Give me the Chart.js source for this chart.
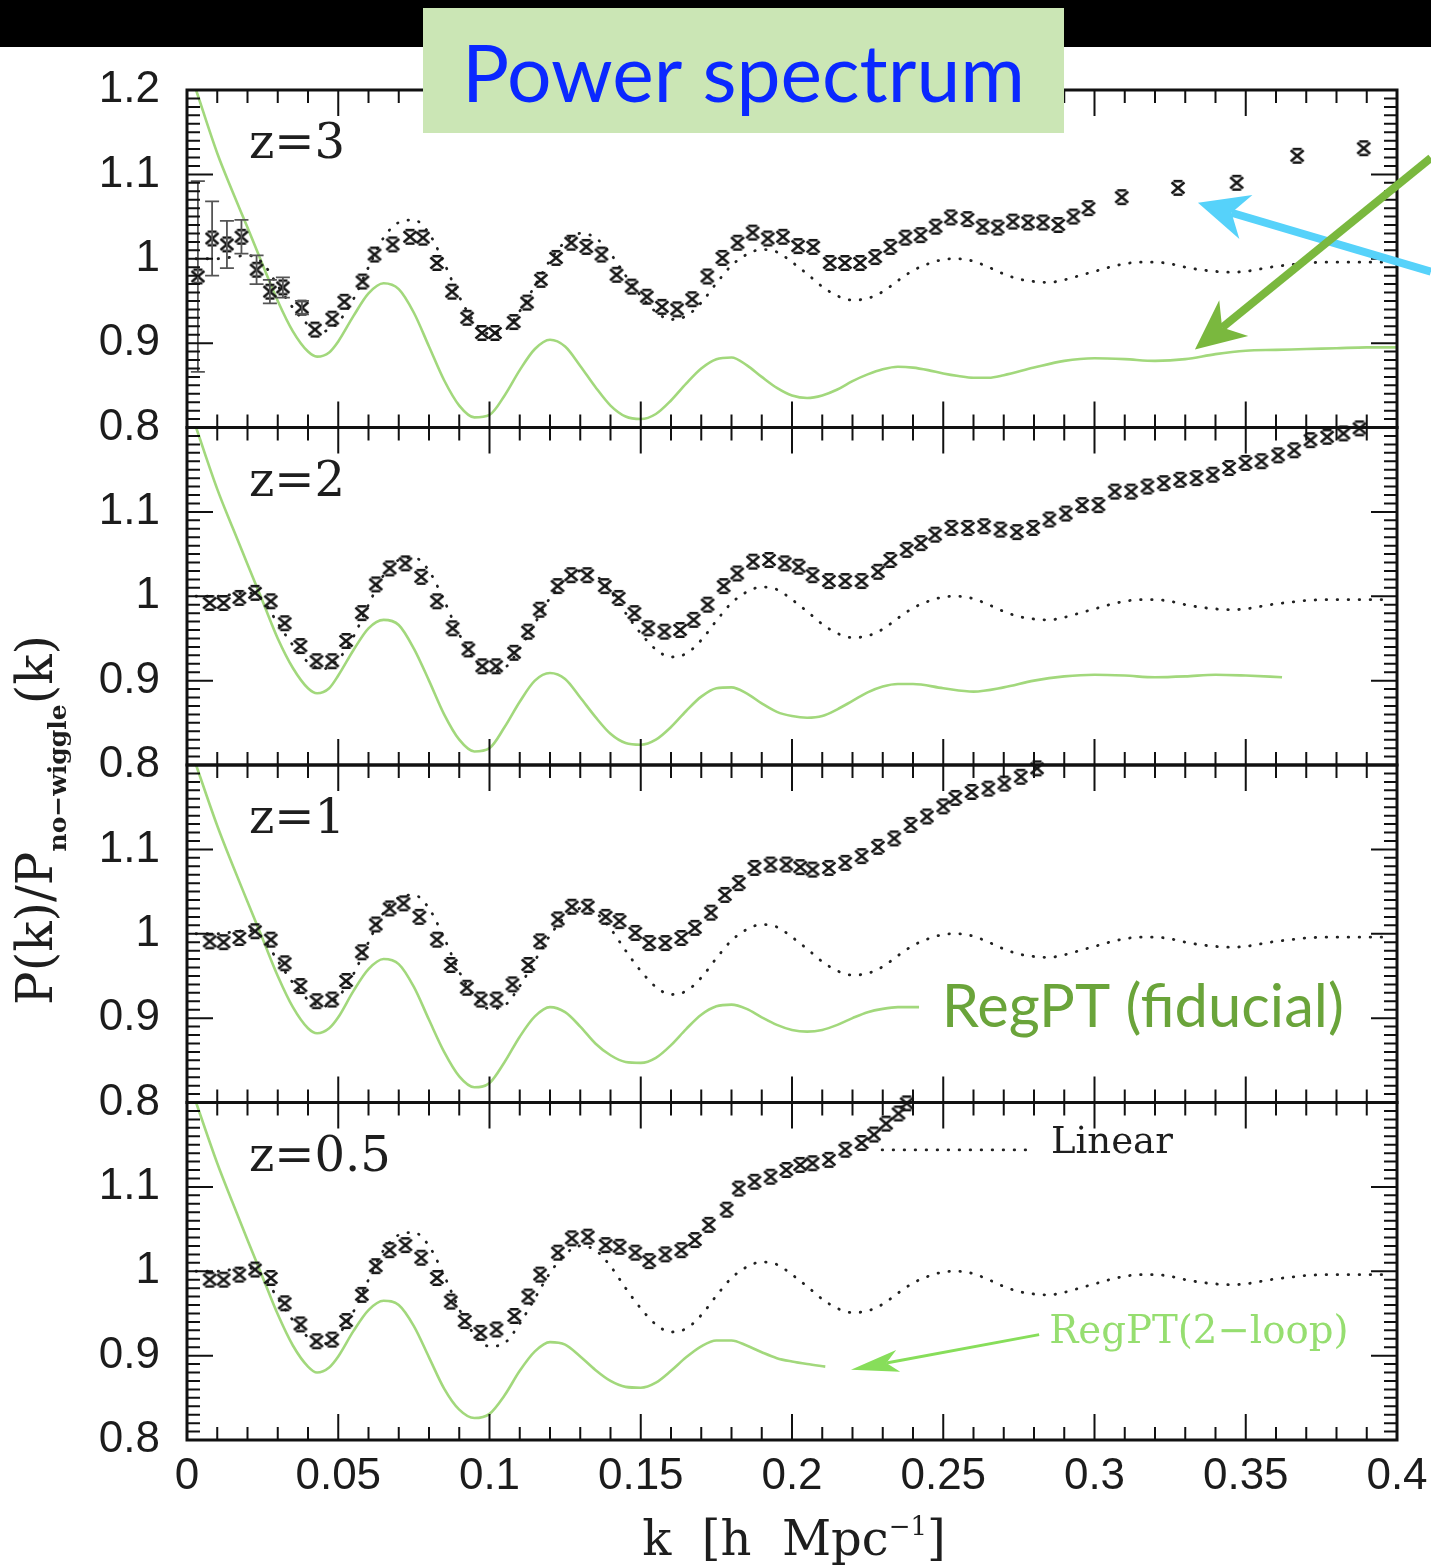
<!DOCTYPE html>
<html><head><meta charset="utf-8">
<script src="https://cdn.jsdelivr.net/npm/chart.js@4.4.1/dist/chart.umd.min.js"></script>
<style>html,body{margin:0;padding:0;background:#fff;}canvas{display:block;}</style>
</head><body>
<canvas id="c" width="1431" height="1567"></canvas>
<script>
// ---------------- DATA ----------------
const panelLabels = ['z=3', 'z=2', 'z=1', 'z=0.5'];
const xTickValues = [0, 0.05, 0.1, 0.15, 0.2, 0.25, 0.3, 0.35, 0.4];
const yTickValues = [0.8, 0.9, 1, 1.1, 1.2];

// N-body simulation points [k, P/Pnw]
const simZ3 = [[0.0036,0.979],[0.0083,1.024],[0.0132,1.017],[0.018,1.026],[0.023,0.987],[0.0274,0.961],[0.0317,0.966],[0.038,0.942],[0.0423,0.916],[0.048,0.929],[0.052,0.949],[0.058,0.973],[0.062,1.005],[0.068,1.017],[0.0737,1.026],[0.078,1.025],[0.0826,0.995],[0.0876,0.961],[0.0926,0.930],[0.0975,0.912],[0.1018,0.912],[0.108,0.925],[0.1124,0.948],[0.117,0.975],[0.122,1.001],[0.127,1.019],[0.132,1.014],[0.137,1.005],[0.142,0.981],[0.147,0.967],[0.152,0.955],[0.157,0.943],[0.162,0.940],[0.167,0.952],[0.172,0.979],[0.177,1.001],[0.182,1.019],[0.187,1.031],[0.192,1.024],[0.197,1.026],[0.202,1.015],[0.207,1.014],[0.2125,0.995],[0.2175,0.995],[0.2225,0.995],[0.2275,1.002],[0.2325,1.014],[0.2375,1.025],[0.2425,1.028],[0.2475,1.038],[0.2525,1.049],[0.258,1.047],[0.263,1.038],[0.268,1.037],[0.273,1.044],[0.278,1.043],[0.283,1.043],[0.288,1.040],[0.293,1.050],[0.298,1.060],[0.309,1.073],[0.3276,1.084],[0.347,1.090],[0.367,1.122],[0.389,1.131]];
const errZ3 = [0.113,0.044,0.028,0.020,0.017,0.014,0.012,0.008];

const simZ2 = [[0.0075,0.992],[0.0121,0.992],[0.0173,0.998],[0.0225,1.004],[0.0277,0.994],[0.0323,0.968],[0.0375,0.941],[0.0428,0.923],[0.048,0.923],[0.0526,0.947],[0.0578,0.980],[0.0624,1.014],[0.067,1.033],[0.0722,1.039],[0.0774,1.023],[0.0826,0.994],[0.0878,0.962],[0.093,0.937],[0.0976,0.917],[0.1022,0.917],[0.1081,0.933],[0.1127,0.958],[0.1166,0.984],[0.1225,1.012],[0.127,1.025],[0.1323,1.025],[0.1381,1.012],[0.1427,0.998],[0.1479,0.980],[0.1525,0.962],[0.1578,0.958],[0.163,0.960],[0.1675,0.972],[0.1721,0.990],[0.1774,1.012],[0.1819,1.027],[0.1871,1.041],[0.1924,1.043],[0.1976,1.039],[0.2022,1.035],[0.2068,1.025],[0.2122,1.018],[0.2176,1.018],[0.223,1.018],[0.2284,1.029],[0.2325,1.043],[0.2379,1.055],[0.2426,1.063],[0.2473,1.073],[0.2527,1.081],[0.2581,1.081],[0.2635,1.083],[0.2689,1.079],[0.2743,1.076],[0.2797,1.081],[0.2851,1.091],[0.2905,1.098],[0.2959,1.108],[0.3013,1.108],[0.3067,1.124],[0.3121,1.124],[0.3175,1.130],[0.3229,1.134],[0.3283,1.138],[0.3337,1.140],[0.3391,1.144],[0.3445,1.152],[0.3499,1.158],[0.3552,1.160],[0.3607,1.167],[0.366,1.173],[0.3714,1.185],[0.3769,1.189],[0.3823,1.193],[0.3876,1.199]];

const simZ1 = [[0.0075,0.991],[0.0121,0.990],[0.0173,0.995],[0.0225,1.003],[0.0277,0.993],[0.0323,0.965],[0.0375,0.938],[0.0428,0.920],[0.048,0.922],[0.0526,0.944],[0.0578,0.978],[0.0624,1.011],[0.067,1.030],[0.0716,1.036],[0.0768,1.020],[0.0826,0.993],[0.0872,0.963],[0.0925,0.936],[0.0971,0.922],[0.1023,0.922],[0.1076,0.940],[0.1128,0.963],[0.1167,0.991],[0.1226,1.017],[0.1272,1.032],[0.1325,1.032],[0.1384,1.020],[0.143,1.015],[0.1482,1.001],[0.1528,0.989],[0.1581,0.989],[0.1634,0.995],[0.1679,1.007],[0.1732,1.025],[0.1778,1.046],[0.1824,1.060],[0.1876,1.078],[0.1929,1.082],[0.1981,1.082],[0.2027,1.079],[0.2068,1.076],[0.2122,1.078],[0.2176,1.084],[0.223,1.092],[0.2284,1.103],[0.2338,1.113],[0.2392,1.129],[0.2446,1.139],[0.25,1.151],[0.254,1.161],[0.2594,1.168],[0.2649,1.172],[0.2702,1.178],[0.2756,1.186],[0.281,1.196]];

const simZ05 = [[0.0075,0.990],[0.0121,0.990],[0.0173,0.996],[0.0225,1.002],[0.0277,0.992],[0.0323,0.962],[0.0375,0.937],[0.0428,0.917],[0.048,0.919],[0.0526,0.941],[0.0578,0.972],[0.0624,1.006],[0.067,1.025],[0.0722,1.031],[0.0774,1.016],[0.0826,0.992],[0.0872,0.964],[0.0918,0.941],[0.097,0.927],[0.1023,0.931],[0.1082,0.947],[0.1128,0.970],[0.1167,0.996],[0.1226,1.022],[0.1272,1.039],[0.1325,1.041],[0.1384,1.031],[0.143,1.029],[0.1482,1.022],[0.1528,1.012],[0.1581,1.020],[0.1634,1.025],[0.1679,1.037],[0.1725,1.055],[0.1784,1.073],[0.1824,1.098],[0.1876,1.106],[0.1929,1.112],[0.1981,1.120],[0.2027,1.126],[0.2068,1.128],[0.2122,1.132],[0.2176,1.144],[0.223,1.152],[0.2271,1.162],[0.2311,1.175],[0.2352,1.187],[0.2379,1.199]];

// Linear theory (dotted), same in every panel
const linear = [[0.003,1.0],[0.01,1.0],[0.015,1.002],[0.02,1.004],[0.025,0.995],[0.03,0.968],[0.035,0.942],[0.04,0.922],[0.045,0.914],[0.05,0.925],[0.055,0.952],[0.06,0.99],[0.065,1.025],[0.07,1.043],[0.075,1.046],[0.08,1.03],[0.085,0.995],[0.09,0.955],[0.095,0.925],[0.1,0.911],[0.105,0.915],[0.11,0.938],[0.115,0.968],[0.12,0.998],[0.125,1.02],[0.13,1.03],[0.135,1.025],[0.14,1.006],[0.145,0.98],[0.15,0.956],[0.155,0.937],[0.16,0.928],[0.165,0.932],[0.17,0.948],[0.175,0.971],[0.18,0.992],[0.185,1.005],[0.19,1.011],[0.195,1.008],[0.2,0.996],[0.205,0.982],[0.21,0.967],[0.215,0.956],[0.22,0.951],[0.225,0.953],[0.23,0.961],[0.235,0.974],[0.24,0.986],[0.245,0.994],[0.25,0.999],[0.255,1.0],[0.26,0.997],[0.265,0.99],[0.27,0.982],[0.275,0.976],[0.28,0.973],[0.285,0.972],[0.29,0.975],[0.295,0.98],[0.3,0.985],[0.305,0.99],[0.31,0.994],[0.315,0.996],[0.32,0.996],[0.325,0.994],[0.33,0.99],[0.335,0.987],[0.34,0.985],[0.345,0.984],[0.35,0.985],[0.355,0.988],[0.36,0.991],[0.365,0.993],[0.37,0.995],[0.38,0.996],[0.39,0.996],[0.397,0.996]];

// RegPT (green) per panel
const regZ3 = [[0.003,1.2],[0.01,1.125],[0.015,1.08],[0.02,1.037],[0.025,0.993],[0.03,0.95],[0.035,0.914],[0.04,0.89],[0.043,0.884],[0.047,0.889],[0.05,0.902],[0.055,0.932],[0.06,0.959],[0.065,0.971],[0.07,0.964],[0.075,0.936],[0.08,0.896],[0.085,0.856],[0.09,0.826],[0.095,0.812],[0.1,0.815],[0.105,0.838],[0.11,0.868],[0.115,0.893],[0.12,0.904],[0.125,0.896],[0.13,0.873],[0.135,0.848],[0.14,0.826],[0.145,0.813],[0.15,0.81],[0.155,0.816],[0.16,0.832],[0.165,0.852],[0.17,0.87],[0.175,0.881],[0.18,0.883],[0.185,0.874],[0.19,0.86],[0.195,0.847],[0.2,0.838],[0.205,0.835],[0.21,0.838],[0.215,0.845],[0.22,0.855],[0.225,0.863],[0.23,0.869],[0.235,0.872],[0.24,0.871],[0.245,0.868],[0.25,0.864],[0.255,0.861],[0.26,0.859],[0.265,0.859],[0.27,0.862],[0.28,0.871],[0.29,0.879],[0.3,0.882],[0.31,0.881],[0.32,0.879],[0.33,0.881],[0.34,0.887],[0.35,0.891],[0.36,0.892],[0.37,0.893],[0.38,0.894],[0.39,0.895],[0.4,0.895]];
const regZ2 = [[0.003,1.2],[0.01,1.127],[0.015,1.082],[0.02,1.038],[0.025,0.994],[0.03,0.95],[0.035,0.915],[0.04,0.891],[0.043,0.885],[0.047,0.891],[0.05,0.906],[0.055,0.936],[0.06,0.962],[0.065,0.972],[0.07,0.966],[0.075,0.938],[0.08,0.9],[0.085,0.86],[0.09,0.83],[0.095,0.816],[0.1,0.82],[0.105,0.845],[0.11,0.875],[0.115,0.9],[0.12,0.909],[0.125,0.902],[0.13,0.88],[0.135,0.857],[0.14,0.837],[0.145,0.826],[0.15,0.824],[0.155,0.83],[0.16,0.845],[0.165,0.864],[0.17,0.881],[0.175,0.891],[0.18,0.892],[0.185,0.885],[0.19,0.873],[0.195,0.863],[0.2,0.858],[0.205,0.856],[0.21,0.858],[0.215,0.866],[0.22,0.876],[0.225,0.886],[0.23,0.893],[0.235,0.896],[0.24,0.896],[0.25,0.891],[0.26,0.887],[0.27,0.892],[0.28,0.9],[0.29,0.905],[0.3,0.907],[0.31,0.906],[0.32,0.904],[0.33,0.905],[0.34,0.907],[0.35,0.906],[0.362,0.904]];
const regZ1 = [[0.003,1.2],[0.01,1.128],[0.015,1.082],[0.02,1.038],[0.025,0.994],[0.03,0.95],[0.035,0.913],[0.04,0.888],[0.043,0.882],[0.047,0.888],[0.05,0.901],[0.055,0.932],[0.06,0.958],[0.065,0.97],[0.07,0.964],[0.075,0.937],[0.08,0.898],[0.085,0.86],[0.09,0.831],[0.095,0.818],[0.1,0.823],[0.105,0.848],[0.11,0.878],[0.115,0.902],[0.12,0.913],[0.125,0.907],[0.13,0.89],[0.135,0.87],[0.14,0.856],[0.145,0.848],[0.15,0.847],[0.155,0.853],[0.16,0.868],[0.165,0.887],[0.17,0.904],[0.175,0.914],[0.18,0.916],[0.185,0.911],[0.19,0.901],[0.195,0.892],[0.2,0.886],[0.205,0.884],[0.21,0.886],[0.215,0.892],[0.22,0.9],[0.225,0.907],[0.23,0.911],[0.235,0.913],[0.242,0.913]];
const regZ05 = [[0.003,1.2],[0.01,1.128],[0.015,1.082],[0.02,1.037],[0.025,0.993],[0.03,0.949],[0.035,0.912],[0.04,0.887],[0.043,0.88],[0.047,0.886],[0.05,0.899],[0.055,0.929],[0.06,0.954],[0.065,0.965],[0.07,0.96],[0.075,0.935],[0.08,0.898],[0.085,0.861],[0.09,0.836],[0.095,0.826],[0.1,0.831],[0.105,0.853],[0.11,0.882],[0.115,0.905],[0.12,0.916],[0.125,0.913],[0.13,0.899],[0.135,0.883],[0.14,0.87],[0.145,0.863],[0.15,0.862],[0.155,0.868],[0.16,0.882],[0.165,0.898],[0.17,0.911],[0.175,0.918],[0.18,0.918],[0.185,0.912],[0.19,0.904],[0.195,0.897],[0.2,0.893],[0.205,0.89],[0.211,0.887]];

// ---------------- STYLE / LAYOUT ----------------
const panels = [
  {id:'y0', label:panelLabels[0], sim:simZ3, reg:regZ3, err:errZ3},
  {id:'y1', label:panelLabels[1], sim:simZ2, reg:regZ2},
  {id:'y2', label:panelLabels[2], sim:simZ1, reg:regZ1},
  {id:'y3', label:panelLabels[3], sim:simZ05, reg:regZ05}
];
const GREEN_LINE = 'rgb(162,216,124)';
const TICK_FONT = {family:'Liberation Sans', size:44};
const SERIF = 'DejaVu Serif';

function makeMarker(){
  const c = document.createElement('canvas'); c.width = 18; c.height = 18;
  const g = c.getContext('2d');
  g.strokeStyle = '#151515'; g.lineWidth = 2.4; g.lineCap = 'butt';
  g.beginPath();
  g.moveTo(2.5,3.5); g.lineTo(15.5,14.5); g.moveTo(15.5,3.5); g.lineTo(2.5,14.5);
  g.moveTo(4.5,2.2); g.lineTo(13.5,2.2); g.moveTo(4.5,15.8); g.lineTo(13.5,15.8);
  g.stroke();
  return c;
}
const marker = makeMarker();
const toXY = arr => arr.map(p => ({x:p[0], y:p[1]}));

const datasets = [];
panels.forEach(p => {
  datasets.push({type:'line', data:toXY(p.reg), yAxisID:p.id, borderColor:GREEN_LINE, borderWidth:2.6,
    pointRadius:0, cubicInterpolationMode:'monotone', fill:false, order:3, clip:false});
  datasets.push({type:'line', data:toXY(linear), yAxisID:p.id, borderColor:'#222', borderWidth:2.8,
    borderDash:[0.5,10.5], borderCapStyle:'round', pointRadius:0, cubicInterpolationMode:'monotone', fill:false, order:2, clip:false});
  datasets.push({type:'scatter', data:toXY(p.sim), yAxisID:p.id, pointStyle:marker, pointRadius:8,
    showLine:false, order:1, clip:false});
});

const yScales = {};
panels.forEach((p, i) => {
  yScales[p.id] = {
    type:'linear', position:'left', stack:'panels', stackWeight:1, weight: 4 - i,
    min:0.8, max:1.2,
    afterBuildTicks: s => { s.ticks = yTickValues.map(v => ({value:v})); },
    afterFit: s => { s.width = 187; },
    grid:{display:false, drawTicks:false}, border:{display:false},
    ticks:{font:TICK_FONT, color:'#1c1c1c', padding:27, autoSkip:false,
      callback: v => { const r = Math.round(v*10)/10; if (i > 0 && r === 1.2) return ''; return String(r); }}
  };
});

// annotation anchors (data coordinates)
const ann = {
  fiducial: {panel:2, k:0.2495, v:0.889, text:'RegPT (fiducial)'},
  linearLeg: {panel:3, k0:0.2298, k1:0.2803, v:1.1438, tk:0.2856, tv:1.140},
  twoLoop: {panel:3, tk:0.285, tv:0.9154, k0:0.2817, v0:0.9249, k1:0.2195, v1:0.8834},
  greenArrow: {panel:0, k0:0.4112, v0:1.1195, k1:0.3332, v1:0.8923},
  blueArrow: {panel:0, k0:0.4112, v0:0.9846, k1:0.3342, v1:1.0663}
};

function arrow(ctx, x1, y1, x2, y2, color, lw, headLen, headHalf, notch){
  const a = Math.atan2(y2-y1, x2-x1), ux = Math.cos(a), uy = Math.sin(a);
  const bx = x2 - ux*headLen, by = y2 - uy*headLen;
  const nx = x2 - ux*headLen*notch, ny = y2 - uy*headLen*notch;
  ctx.strokeStyle = color; ctx.lineWidth = lw; ctx.lineCap = 'butt';
  ctx.beginPath(); ctx.moveTo(x1,y1); ctx.lineTo(nx,ny); ctx.stroke();
  ctx.fillStyle = color; ctx.beginPath();
  ctx.moveTo(x2,y2); ctx.lineTo(bx - uy*headHalf, by + ux*headHalf);
  ctx.lineTo(nx,ny); ctx.lineTo(bx + uy*headHalf, by - ux*headHalf); ctx.closePath(); ctx.fill();
}
function fitSize(ctx, text, family, weight, width){
  ctx.font = weight + ' 100px "' + family + '"';
  return 100 * width / ctx.measureText(text).width;
}

const decor = {
  id:'decor',
  beforeDraw(chart){
    const ctx = chart.ctx;
    ctx.save();
    ctx.fillStyle = '#fff'; ctx.fillRect(0,0,chart.width,chart.height);
    ctx.fillStyle = '#000'; ctx.fillRect(0,0,chart.width,47);
    ctx.restore();
  },
  afterDraw(chart){
    const ctx = chart.ctx, xs = chart.scales.x, ca = chart.chartArea;
    const ysc = panels.map(p => chart.scales[p.id]);
    ctx.save();
    // error bars (z=3 low-k)
    ctx.strokeStyle = '#555'; ctx.lineWidth = 1.8;
    panels.forEach((p, pi) => {
      if (!p.err) return;
      p.err.forEach((e, j) => {
        const px = xs.getPixelForValue(p.sim[j][0]);
        const t = ysc[pi].getPixelForValue(p.sim[j][1] + e), b = ysc[pi].getPixelForValue(p.sim[j][1] - e);
        ctx.beginPath(); ctx.moveTo(px,t); ctx.lineTo(px,b);
        ctx.moveTo(px-7,t); ctx.lineTo(px+7,t); ctx.moveTo(px-7,b); ctx.lineTo(px+7,b); ctx.stroke();
      });
    });
    // ticks and frames
    ctx.strokeStyle = '#111'; ctx.lineWidth = 2;
    ysc.forEach(ys => {
      const top = ys.top, bot = ys.bottom;
      ctx.beginPath();
      for (let i = 81; i < 120; i++){
        const py = ys.getPixelForValue(i/100), len = (i % 10 === 0) ? 26 : 13;
        ctx.moveTo(ca.left, py); ctx.lineTo(ca.left+len, py);
        ctx.moveTo(ca.right, py); ctx.lineTo(ca.right-len, py);
      }
      for (let j = 1; j < 40; j++){
        const px = xs.getPixelForValue(j/100), len = (j % 5 === 0) ? 26 : 13;
        ctx.moveTo(px, top); ctx.lineTo(px, top+len);
        ctx.moveTo(px, bot); ctx.lineTo(px, bot-len);
      }
      ctx.stroke();
    });
    ctx.lineWidth = 3; ctx.strokeStyle = '#111';
    ysc.forEach(ys => { ctx.strokeRect(ca.left, ys.top, ca.right-ca.left, ys.bottom-ys.top); });

    // panel labels
    ctx.fillStyle = '#1e1e1e'; ctx.font = '48px "' + SERIF + '"'; ctx.textBaseline = 'alphabetic'; ctx.textAlign = 'left';
    panels.forEach((p, pi) => { ctx.fillText(p.label, ca.left + 62, ysc[pi].top + 68); });

    // Linear legend
    const L = ann.linearLeg, yL = ysc[L.panel];
    ctx.strokeStyle = '#222'; ctx.lineWidth = 2.8; ctx.lineCap = 'round'; ctx.setLineDash([0.5,10.5]);
    ctx.beginPath(); ctx.moveTo(xs.getPixelForValue(L.k0), yL.getPixelForValue(L.v)); ctx.lineTo(xs.getPixelForValue(L.k1), yL.getPixelForValue(L.v)); ctx.stroke();
    ctx.setLineDash([]);
    ctx.fillStyle = '#1e1e1e'; ctx.font = '37px "' + SERIF + '"';
    ctx.fillText('Linear', xs.getPixelForValue(L.tk), yL.getPixelForValue(L.tv));

    // RegPT(2-loop)
    const T = ann.twoLoop, yT = ysc[T.panel];
    ctx.fillStyle = 'rgb(150,222,112)';
    ctx.font = fitSize(ctx, 'RegPT(2\u2212loop)', SERIF, '', 300).toFixed(1) + 'px "' + SERIF + '"';
    ctx.fillText('RegPT(2\u2212loop)', xs.getPixelForValue(T.tk), yT.getPixelForValue(T.tv));
    arrow(ctx, xs.getPixelForValue(T.k0), yT.getPixelForValue(T.v0), xs.getPixelForValue(T.k1), yT.getPixelForValue(T.v1),
      'rgb(135,222,90)', 3, 48, 11, 0.75);

    // RegPT (fiducial)
    const F = ann.fiducial, yF = ysc[F.panel];
    ctx.fillStyle = 'rgb(106,164,58)';
    ctx.font = fitSize(ctx, F.text, 'Lato', '', 402).toFixed(1) + 'px "Lato"';
    ctx.fillText(F.text, xs.getPixelForValue(F.k), yF.getPixelForValue(F.v));

    // Arrows on top panel
    const G = ann.greenArrow, B = ann.blueArrow, y0 = ysc[0];
    arrow(ctx, xs.getPixelForValue(B.k0), y0.getPixelForValue(B.v0), xs.getPixelForValue(B.k1), y0.getPixelForValue(B.v1),
      'rgb(86,210,250)', 8, 50, 23, 0.7);
    arrow(ctx, xs.getPixelForValue(G.k0), y0.getPixelForValue(G.v0), xs.getPixelForValue(G.k1), y0.getPixelForValue(G.v1),
      'rgb(122,184,62)', 8, 50, 23, 0.7);

    // Y axis title (rotated)
    ctx.save();
    ctx.translate(52, 820); ctx.rotate(-Math.PI/2);
    ctx.fillStyle = '#1e1e1e';
    const mainF = '50px "' + SERIF + '"', subF = 'bold 25px "' + SERIF + '"';
    const parts = [['P(k)/P', mainF, 0], ['no\u2212wiggle', subF, 14], ['(k)', mainF, 0]];
    let tw = 0; parts.forEach(pt => { ctx.font = pt[1]; tw += ctx.measureText(pt[0]).width; });
    let cx = -tw/2;
    parts.forEach(pt => { ctx.font = pt[1]; ctx.fillText(pt[0], cx, pt[2]); cx += ctx.measureText(pt[0]).width; });
    ctx.restore();

    // X axis title
    ctx.fillStyle = '#1e1e1e';
    const xParts = [['k  [h  Mpc', '48px "' + SERIF + '"', 0], ['\u22121', '26px "' + SERIF + '"', -20], [']', '48px "' + SERIF + '"', 0]];
    let xw = 0; xParts.forEach(pt => { ctx.font = pt[1]; xw += ctx.measureText(pt[0]).width; });
    let xx = (ca.left + ca.right)/2 - xw/2 + 2;
    xParts.forEach(pt => { ctx.font = pt[1]; ctx.fillText(pt[0], xx, 1555 + pt[2]); xx += ctx.measureText(pt[0]).width; });

    // Title box
    ctx.fillStyle = 'rgb(203,230,181)'; ctx.fillRect(423, 8, 641, 125);
    ctx.fillStyle = 'rgb(10,40,255)';
    ctx.font = fitSize(ctx, 'Power spectrum', 'Lato', '', 563).toFixed(1) + 'px "Lato"';
    ctx.fillText('Power spectrum', 462, 102);
    ctx.restore();
  }
};

new Chart(document.getElementById('c'), {
  type:'scatter',
  data:{datasets},
  options:{
    responsive:false, animation:false, devicePixelRatio:1,
    layout:{padding:{left:0, right:34, top:90, bottom:0}},
    plugins:{legend:{display:false}, tooltip:{enabled:false}, title:{display:false}},
    scales:Object.assign({
      x:{type:'linear', position:'bottom', min:0, max:0.4,
        afterBuildTicks: s => { s.ticks = xTickValues.map(v => ({value:v})); },
        afterFit: s => { s.height = 127; s.paddingLeft = 0; s.paddingRight = 0; },
        grid:{display:false, drawTicks:false}, border:{display:false},
        ticks:{font:TICK_FONT, color:'#1c1c1c', padding:10, autoSkip:false, maxRotation:0,
          callback: v => String(parseFloat(Number(v).toFixed(2)))}}
    }, yScales)
  },
  plugins:[decor]
});
</script>
</body></html>
